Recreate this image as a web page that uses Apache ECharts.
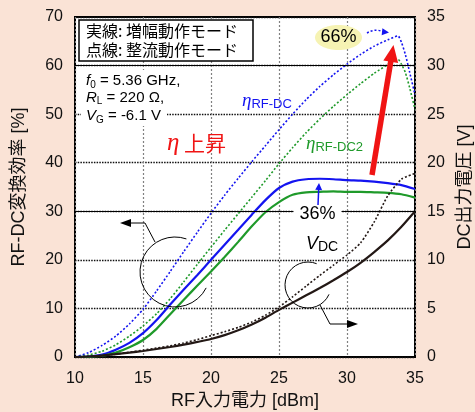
<!DOCTYPE html>
<html>
<head>
<meta charset="utf-8">
<script src="https://cdn.jsdelivr.net/npm/echarts@6/dist/echarts.min.js"></script>
<style>
html, body { margin: 0; padding: 0; background: #fae3d6; }
#chart { width: 475px; height: 412px; }
</style>
</head>
<body>
<div id="chart"></div>
<script>
// RF入力電力 [dBm]
const pin = [10, 11, 12, 13, 14, 15, 16, 17, 18, 19, 20, 21, 22, 23, 24, 25, 26, 27, 28, 29, 30, 31, 32, 33, 34, 35];
const pinRect = [10, 11, 12, 13, 14, 15, 16, 17, 18, 19, 20, 21, 22, 23, 24, 25, 26, 27, 28, 29, 30, 31, 32, 33, 33.75, 34, 34.3, 34.6, 35];

// 整流動作モード (点線)
const effRect = [0, 0.9, 2.4, 4.3, 6.8, 9.8, 13.6, 17.6, 21.7, 25.7, 29.6, 33.3, 36.8, 40.2, 43.5, 46.8, 50, 53, 55.7, 58.1, 60.3, 62.3, 64, 65.3, 66.1, 64.8, 62.2, 58.7, 54];
const effRect2 = [0, 0.4, 1.2, 2.5, 4.3, 6.4, 8.9, 12, 15.5, 19.1, 22.6, 26.1, 29.5, 32.9, 36.3, 39.8, 43.1, 46.2, 49, 51.6, 54, 56.3, 58.4, 60.2, 61.3, 60.3, 58.5, 55.5, 51];
const vdcRect = [0, 0.05, 0.15, 0.3, 0.5, 0.7, 0.92, 1.15, 1.45, 1.8, 2.2, 2.6, 3.05, 3.6, 4.3, 5.15, 6.2, 7.3, 8.4, 9.45, 10.5, 11.75, 13.9, 16.6, 18.3, 18.9];

// 増幅動作モード (実線)
const effAmp = [0, 0.1, 0.5, 1.5, 2.9, 4.9, 7.6, 10.8, 13.9, 16.9, 20, 23.1, 26.2, 29.3, 32.3, 34.8, 36.1, 36.6, 36.7, 36.6, 36.4, 36.3, 36.1, 35.8, 35.4, 34.6];
const effAmp2 = [0, 0.05, 0.25, 0.9, 2, 3.5, 5.8, 8.8, 11.8, 14.7, 17.6, 20.6, 23.7, 26.9, 29.8, 31.9, 33.4, 33.9, 34, 34.1, 34, 34, 33.9, 33.8, 33.5, 32.8];
const vdcAmp = [0, 0.05, 0.15, 0.3, 0.45, 0.62, 0.82, 1.03, 1.27, 1.55, 1.85, 2.25, 2.75, 3.35, 4.05, 4.85, 5.6, 6.35, 7.1, 7.9, 8.75, 9.7, 10.8, 12, 13.4, 15];

const BLUE = '#1414f0';
const GREEN = '#1f9a2a';
const BLACK = '#231815';
const SANS = '"Liberation Sans", "Noto Sans CJK JP", sans-serif';
const CJK = '"Noto Sans CJK JP", "Liberation Sans", sans-serif';
const SERIF = '"Liberation Serif", "DejaVu Serif", serif';

function pair(xs, ys) {
  return xs.map((x, i) => [x, ys[i]]);
}

function line(data, color, dotted, yIndex) {
  return {
    type: 'line',
    data: data,
    yAxisIndex: yIndex || 0,
    showSymbol: false,
    smooth: 0.2,
    silent: true,
    lineStyle: { color: color, width: dotted ? 1.6 : 2.2, type: dotted ? [2, 2] : 'solid' }
  };
}

// 矢印の頭 (三角形)
function head(tip, from, len, hw, color) {
  const dx = tip[0] - from[0], dy = tip[1] - from[1];
  const l = Math.sqrt(dx * dx + dy * dy);
  const ux = dx / l, uy = dy / l;
  const bx = tip[0] - ux * len, by = tip[1] - uy * len;
  return {
    type: 'polygon',
    shape: { points: [tip, [bx - uy * hw, by + ux * hw], [bx + uy * hw, by - ux * hw]] },
    style: { fill: color }
  };
}

function deg(a) { return a * Math.PI / 180; }

const sub = (size, pad) => ({ fontSize: size, fontFamily: SANS, lineHeight: size, padding: [pad, 0, 0, 0] });
const ital = { fontSize: 15, fontFamily: SANS, fontStyle: 'italic', lineHeight: 18 };
const norm = { fontSize: 15, fontFamily: SANS, lineHeight: 18 };

const graphics = [
  // 凡例ボックス
  { type: 'rect', shape: { x: 79, y: 20, width: 174, height: 41 }, style: { fill: '#fff', stroke: '#000', lineWidth: 1.5 } },
  { type: 'text', x: 86, y: 30.5, style: { text: '実線: 増幅動作モード', font: '16px ' + CJK, fill: '#000', verticalAlign: 'middle' } },
  { type: 'text', x: 86, y: 49.5, style: { text: '点線: 整流動作モード', font: '16px ' + CJK, fill: '#000', verticalAlign: 'middle' } },

  // 条件
  { type: 'rect', shape: { x: 81, y: 70, width: 86, height: 56 }, style: { fill: '#fff' } },
  { type: 'text', x: 86, y: 81, style: { text: '{i|f}{s|0}{n| = 5.36 GHz,}', verticalAlign: 'middle', fill: '#000', rich: { i: ital, n: norm, s: sub(10, 8) } } },
  { type: 'text', x: 86, y: 97.5, style: { text: '{i|R}{s|L}{n| = 220 Ω,}', verticalAlign: 'middle', fill: '#000', rich: { i: ital, n: norm, s: sub(10, 8) } } },
  { type: 'text', x: 86, y: 116, style: { text: '{i|V}{s|G}{n| = -6.1 V}', verticalAlign: 'middle', fill: '#000', rich: { i: ital, n: norm, s: sub(10, 8) } } },

  // 曲線ラベル
  { type: 'text', x: 242, y: 101, style: {
      text: '{e|η}{s|RF-DC}', verticalAlign: 'middle', fill: BLUE,
      rich: { e: { fontSize: 19, fontFamily: SERIF, fontStyle: 'italic', lineHeight: 20 }, s: sub(13, 7) } } },
  { type: 'text', x: 306, y: 144, style: {
      text: '{e|η}{s|RF-DC2}', verticalAlign: 'middle', fill: GREEN,
      rich: { e: { fontSize: 19, fontFamily: SERIF, fontStyle: 'italic', lineHeight: 20 }, s: sub(13, 7) } } },
  { type: 'text', x: 306, y: 244, style: {
      text: '{i|V}{s|DC}', verticalAlign: 'middle', fill: '#000',
      rich: { i: { fontSize: 18, fontFamily: SANS, fontStyle: 'italic', lineHeight: 20 }, s: sub(14, 6) } } },
  { type: 'text', x: 167, y: 143, style: {
      text: '{e|η}{n| 上昇}', verticalAlign: 'middle', fill: '#f01414',
      rich: { e: { fontSize: 25, fontFamily: SERIF, fontStyle: 'italic', lineHeight: 26 }, n: { fontSize: 21, fontFamily: CJK, lineHeight: 26 } } } },

  // 赤い矢印
  { type: 'line', shape: { x1: 372, y1: 175, x2: 391, y2: 60 }, style: { stroke: '#f01414', lineWidth: 5.5 } },
  head([393.5, 45], [372, 175], 17, 7.5, '#f01414'),

  // 66%
  { type: 'ellipse', shape: { cx: 338.5, cy: 37.5, rx: 23.5, ry: 12.5 }, style: { fill: '#f6f3b3' } },
  { type: 'text', x: 338.5, y: 37.5, style: { text: '66%', font: '18px ' + SANS, fill: '#000', align: 'center', verticalAlign: 'middle' } },
  { type: 'bezierCurve', shape: { x1: 367, y1: 33, x2: 384, y2: 32, cpx1: 375, cpy1: 28 }, style: { stroke: BLUE, lineWidth: 1.5, lineDash: [2, 2], fill: 'none' } },
  head([389, 32.5], [380, 31.5], 7, 3.5, BLUE),

  // 36%
  { type: 'text', x: 317.5, y: 214, style: { text: '36%', font: '18px ' + SANS, fill: '#000', align: 'center', verticalAlign: 'middle', backgroundColor: '#fff', padding: [1, 6, 0, 6] } },
  { type: 'line', shape: { x1: 318, y1: 205, x2: 318.7, y2: 189 }, style: { stroke: BLUE, lineWidth: 1.5 } },
  head([319, 183], [318, 205], 7, 3.5, BLUE),

  // 左軸を示す円と矢印
  { type: 'arc', shape: { cx: 175, cy: 272, r: 35, startAngle: deg(27), endAngle: deg(289), clockwise: true }, style: { stroke: '#000', lineWidth: 1, fill: 'none' } },
  { type: 'polyline', shape: { points: [[155, 242], [145, 223], [130, 223]] }, style: { stroke: '#000', lineWidth: 1, fill: 'none' } },
  head([120, 223], [135, 223], 11, 4, '#000'),

  // 右軸を示す円と矢印
  { type: 'arc', shape: { cx: 308, cy: 285, r: 23, startAngle: deg(24), endAngle: deg(292), clockwise: true }, style: { stroke: '#000', lineWidth: 1, fill: 'none' } },
  { type: 'polyline', shape: { points: [[320, 305], [330, 324], [347, 324]] }, style: { stroke: '#000', lineWidth: 1, fill: 'none' } },
  head([358, 324], [340, 324], 11, 4, '#000')
].map(g => Object.assign({ z: 50, silent: true }, g));

const chart = echarts.init(document.getElementById('chart'), null, { renderer: 'canvas' });

// 30% と 60% の線は実線
const solidGrid = {
  silent: true,
  symbol: 'none',
  label: { show: false },
  lineStyle: { type: 'solid', color: '#000', width: 1.2 },
  data: [{ yAxis: 30 }, { yAxis: 60 }]
};

const ampBlue = line(pair(pin, effAmp), BLUE, false);
ampBlue.markLine = solidGrid;

chart.setOption({
  animation: false,
  backgroundColor: '#fae3d6',
  textStyle: { fontFamily: SANS },
  grid: {
    left: 75, right: 60, top: 17, bottom: 55, outerBoundsMode: 'none',
    show: true, backgroundColor: '#fff', borderColor: '#000', borderWidth: 2
  },
  xAxis: {
    type: 'value', min: 10, max: 35, interval: 5,
    name: 'RF入力電力 [dBm]', nameLocation: 'middle', nameGap: 35,
    nameTextStyle: { fontSize: 18, color: '#111', fontFamily: SANS },
    axisLine: { show: false }, axisTick: { show: false },
    axisLabel: { fontSize: 16, color: '#111', margin: 14 },
    splitLine: { show: true, lineStyle: { color: '#808080', width: 1.2, type: [2, 2] } }
  },
  yAxis: [
    {
      type: 'value', min: 0, max: 70, interval: 10,
      name: 'RF-DC変換効率 [%]', nameLocation: 'middle', nameGap: 47, nameRotate: 90,
      nameTextStyle: { fontSize: 18, color: '#111', fontFamily: SANS },
      axisLine: { show: false }, axisTick: { show: false },
      axisLabel: { fontSize: 16, color: '#111', margin: 12 },
      splitLine: { show: true, lineStyle: { color: '#111', width: 1.3, type: [1.5, 1.2] } }
    },
    {
      type: 'value', min: 0, max: 35, interval: 5, position: 'right',
      name: 'DC出力電圧 [V]', nameLocation: 'middle', nameGap: 32, nameRotate: 90,
      nameTextStyle: { fontSize: 18, color: '#111', fontFamily: SANS },
      axisLine: { show: false }, axisTick: { show: false },
      axisLabel: { fontSize: 16, color: '#111', margin: 12 },
      splitLine: { show: false }
    }
  ],
  series: [
    line(pair(pinRect, effRect), BLUE, true),
    line(pair(pinRect, effRect2), GREEN, true),
    ampBlue,
    line(pair(pin, effAmp2), GREEN, false),
    line(pair(pin, vdcRect), BLACK, true, 1),
    line(pair(pin, vdcAmp), BLACK, false, 1)
  ],
  graphic: { elements: graphics }
});
</script>
</body>
</html>
